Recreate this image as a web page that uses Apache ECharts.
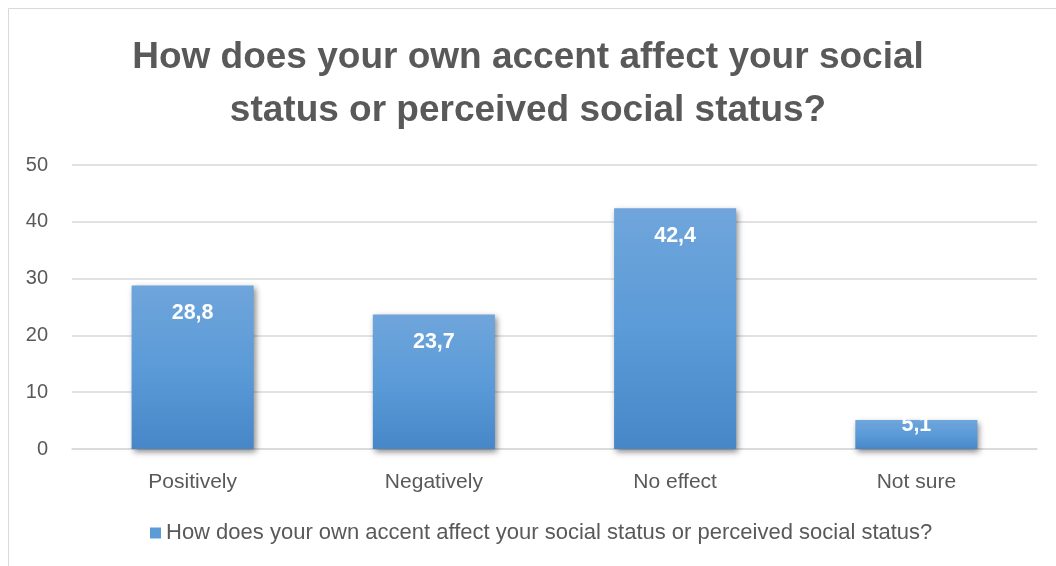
<!DOCTYPE html>
<html>
<head>
<meta charset="utf-8">
<script src="https://cdn.jsdelivr.net/npm/echarts@6/dist/echarts.min.js"></script>
<style>
  html, body { margin: 0; padding: 0; background: #ffffff; }
  #chart { width: 1056px; height: 566px; }
</style>
</head>
<body>
<div id="chart"></div>
<script>
// Survey answers (percent of respondents)
const chartTitle = 'How does your own accent affect your social\nstatus or perceived social status?';
const seriesName = 'How does your own accent affect your social status or perceived social status?';
const categories = ['Positively', 'Negatively', 'No effect', 'Not sure'];
const values = [28.8, 23.7, 42.4, 5.1];
const yTicks = [0, 10, 20, 30, 40, 50];

const textGrey = '#595959';
const bodyFont = "'Liberation Sans', Arial, sans-serif";

const barFill = new echarts.graphic.LinearGradient(0, 0, 0, 1, [
  { offset: 0, color: '#6fa5db' },
  { offset: 0.5, color: '#5b9bd8' },
  { offset: 1, color: '#4787c8' }
]);

// Short bars get their label pushed up against the top edge
const barData = values.map(v => ({
  value: v,
  label: v < 10 ? { distance: -6 } : undefined
}));

const chart = echarts.init(document.getElementById('chart'), null, { renderer: 'canvas' });
chart.setOption({
  backgroundColor: '#ffffff',
  animation: false,
  graphic: [{
    type: 'rect',
    shape: { x: 8.5, y: 8.5, width: 1100, height: 600 },
    style: { fill: 'none', stroke: '#d9d9d9', lineWidth: 1 },
    silent: true,
    z: -1
  }],
  title: {
    text: chartTitle,
    left: 'center',
    top: 26,
    textStyle: {
      fontFamily: bodyFont,
      fontWeight: 'bold',
      fontSize: 37,
      lineHeight: 53,
      color: textGrey
    }
  },
  legend: {
    bottom: 17,
    left: 145,
    itemWidth: 11,
    itemHeight: 11,
    itemGap: 7,
    icon: 'rect',
    textStyle: { fontFamily: bodyFont, fontSize: 22, color: textGrey },
    data: [{ name: seriesName, itemStyle: { color: '#5b9bd8' } }]
  },
  grid: { left: 72, right: 19, top: 165, bottom: 117, containLabel: false },
  xAxis: {
    type: 'category',
    data: categories,
    axisTick: { show: false },
    axisLine: { lineStyle: { color: '#d9d9d9', width: 1.5 } },
    axisLabel: { margin: 23, fontFamily: bodyFont, fontSize: 21, color: textGrey }
  },
  yAxis: {
    type: 'value',
    min: yTicks[0],
    max: yTicks[yTicks.length - 1],
    interval: yTicks[1] - yTicks[0],
    axisLine: { show: false },
    axisTick: { show: false },
    splitLine: { lineStyle: { color: '#d9d9d9', width: 1.5 } },
    axisLabel: { margin: 24, fontFamily: bodyFont, fontSize: 20, color: textGrey }
  },
  series: [{
    name: seriesName,
    type: 'bar',
    data: barData,
    barWidth: '50.6%',
    itemStyle: {
      color: barFill,
      shadowColor: 'rgba(0,0,0,0.45)',
      shadowBlur: 6,
      shadowOffsetX: 2,
      shadowOffsetY: 3
    },
    label: {
      show: true,
      position: 'insideTop',
      distance: 17,
      fontFamily: bodyFont,
      fontWeight: 'bold',
      fontSize: 21.5,
      color: '#ffffff',
      formatter: p => String(p.value).replace('.', ',')
    }
  }]
});
</script>
</body>
</html>
